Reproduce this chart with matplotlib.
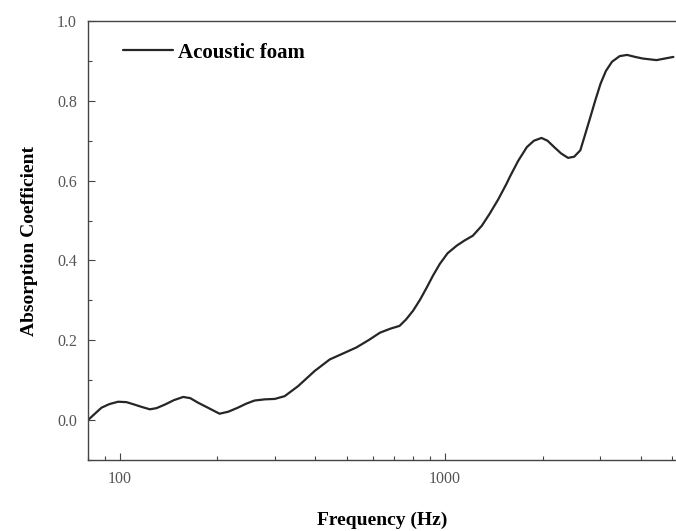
import matplotlib
matplotlib.use("Agg")
import matplotlib.pyplot as plt
from matplotlib.ticker import LogLocator, NullFormatter, MultipleLocator, FixedLocator

plt.rcParams['font.family'] = ['Liberation Serif', 'DejaVu Serif']

freq = [80, 84, 88, 93, 99, 105, 111, 117, 124, 130, 138, 147, 157, 165, 174,
        188, 203, 216, 231, 245, 260, 280, 300, 322, 354, 398, 443, 490, 535,
        585, 632, 680, 726, 760, 799, 840, 880, 920, 965, 1020, 1088, 1150,
        1220, 1300, 1374, 1460, 1548, 1584, 1680, 1788, 1880, 1983, 2070,
        2170, 2280, 2394, 2500, 2611, 2700, 2805, 2900, 3013, 3130, 3268,
        3450, 3636, 3850, 4060, 4476, 5045]
alpha = [0.0, 0.016, 0.031, 0.040, 0.046, 0.045, 0.039, 0.033, 0.027, 0.030,
         0.039, 0.050, 0.058, 0.055, 0.044, 0.030, 0.016, 0.021, 0.031, 0.041,
         0.049, 0.052, 0.053, 0.060, 0.085, 0.123, 0.152, 0.168, 0.182, 0.201,
         0.219, 0.229, 0.236, 0.252, 0.274, 0.302, 0.332, 0.362, 0.391, 0.418,
         0.437, 0.450, 0.462, 0.487, 0.517, 0.553, 0.592, 0.609, 0.649, 0.684,
         0.700, 0.707, 0.700, 0.684, 0.668, 0.657, 0.660, 0.676, 0.715, 0.760,
         0.800, 0.843, 0.875, 0.898, 0.912, 0.915, 0.910, 0.906, 0.902, 0.910]
series_label = "Acoustic foam"
x_label = "Frequency (Hz)"
y_label = "Absorption Coefficient"
y_ticks = [0.0, 0.2, 0.4, 0.6, 0.8, 1.0]
x_ticks = [100, 1000]

fig = plt.figure(figsize=(6.76, 5.31), dpi=100)
ax = fig.add_axes([88/676, 71/531, 1 - 88/676, (460-21)/531])
ax.plot(freq, alpha, color='#262626', lw=1.6, label=series_label,
        solid_joinstyle='round', solid_capstyle='round')
ax.set_xscale('log')
ax.set_xlim(80, 5140)
ax.set_ylim(-0.1, 1.0)
ax.xaxis.set_major_locator(FixedLocator(x_ticks))
ax.set_xticklabels([str(t) for t in x_ticks])
ax.xaxis.set_minor_locator(LogLocator(base=10, subs=range(2, 10), numticks=20))
ax.xaxis.set_minor_formatter(NullFormatter())
ax.set_yticks(y_ticks)
ax.set_yticklabels([f"{t:.1f}" for t in y_ticks])
ax.yaxis.set_minor_locator(MultipleLocator(0.1))
ax.tick_params(which='both', direction='in', colors='#444444', labelsize=11.5, labelcolor='#555555')
ax.tick_params(which='major', length=5, width=0.8)
ax.tick_params(which='minor', length=3, width=0.8)
ax.tick_params(axis='x', pad=8)
ax.tick_params(axis='y', pad=8)
for s in ['left', 'bottom', 'top']:
    ax.spines[s].set_color('#444444')
    ax.spines[s].set_linewidth(1.0)
ax.spines['right'].set_visible(False)
ax.set_xlabel(x_label, fontsize=14, fontweight='bold', labelpad=18)
ax.set_ylabel(y_label, fontsize=14, fontweight='bold', labelpad=14)
leg = ax.legend(loc='upper left', frameon=False, prop={'weight': 'bold', 'size': 15},
                handlelength=2.4, handletextpad=0.25, borderaxespad=0,
                bbox_to_anchor=(0.045, 0.97))
fig.savefig('out.png', dpi=100)
